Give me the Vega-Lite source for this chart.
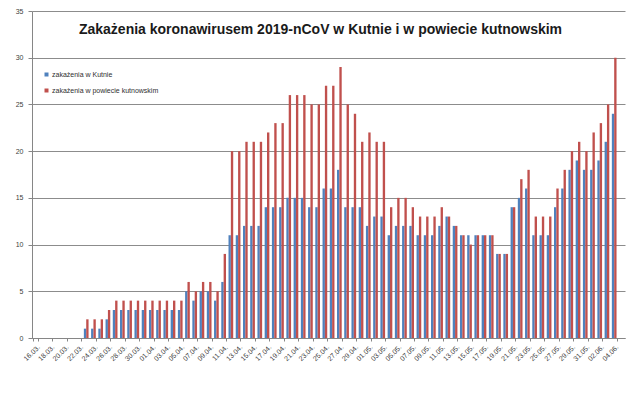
{
 "$schema": "https://vega.github.io/schema/vega-lite/v6.json",
 "width": 593,
 "height": 327,
 "autosize": {"type": "none"},
 "padding": {"left": 32, "top": 11, "right": 18, "bottom": 55},
 "background": "white",
 "title": {"text": "Zakażenia koronawirusem 2019-nCoV w Kutnie i w powiecie kutnowskim", "font": "Liberation Sans", "fontSize": 14, "fontWeight": "bold", "color": "#1a1a1a", "anchor": "middle", "frame": "group", "offset": -30, "dx": -8},
 "data": {"values": [
  {"d":"16.03.","k":0,"p":0},{"d":"17.03.","k":0,"p":0},{"d":"18.03.","k":0,"p":0},{"d":"19.03.","k":0,"p":0},
  {"d":"20.03.","k":0,"p":0},{"d":"21.03.","k":0,"p":0},{"d":"22.03.","k":0,"p":0},{"d":"23.03.","k":1,"p":2},
  {"d":"24.03.","k":1,"p":2},{"d":"25.03.","k":1,"p":2},{"d":"26.03.","k":2,"p":3},{"d":"27.03.","k":3,"p":4},
  {"d":"28.03.","k":3,"p":4},{"d":"29.03.","k":3,"p":4},{"d":"30.03.","k":3,"p":4},{"d":"31.03.","k":3,"p":4},
  {"d":"01.04.","k":3,"p":4},{"d":"02.04.","k":3,"p":4},{"d":"03.04.","k":3,"p":4},{"d":"04.04.","k":3,"p":4},
  {"d":"05.04.","k":3,"p":4},{"d":"06.04.","k":5,"p":6},{"d":"07.04.","k":4,"p":5},{"d":"08.04.","k":5,"p":6},
  {"d":"09.04.","k":5,"p":6},{"d":"10.04.","k":4,"p":5},{"d":"11.04.","k":6,"p":9},{"d":"12.04.","k":11,"p":20},
  {"d":"13.04.","k":11,"p":20},{"d":"14.04.","k":12,"p":21},{"d":"15.04.","k":12,"p":21},{"d":"16.04.","k":12,"p":21},
  {"d":"17.04.","k":14,"p":22},{"d":"18.04.","k":14,"p":23},{"d":"19.04.","k":14,"p":23},{"d":"20.04.","k":15,"p":26},
  {"d":"21.04.","k":15,"p":26},{"d":"22.04.","k":15,"p":26},{"d":"23.04.","k":14,"p":25},{"d":"24.04.","k":14,"p":25},
  {"d":"25.04.","k":16,"p":27},{"d":"26.04.","k":16,"p":27},{"d":"27.04.","k":18,"p":29},{"d":"28.04.","k":14,"p":25},
  {"d":"29.04.","k":14,"p":24},{"d":"30.04.","k":14,"p":21},{"d":"01.05.","k":12,"p":22},{"d":"02.05.","k":13,"p":21},
  {"d":"03.05.","k":13,"p":21},{"d":"04.05.","k":11,"p":14},{"d":"05.05.","k":12,"p":15},{"d":"06.05.","k":12,"p":15},
  {"d":"07.05.","k":12,"p":14},{"d":"08.05.","k":11,"p":13},{"d":"09.05.","k":11,"p":13},{"d":"10.05.","k":11,"p":13},
  {"d":"11.05.","k":12,"p":14},{"d":"12.05.","k":13,"p":13},{"d":"13.05.","k":12,"p":12},{"d":"14.05.","k":11,"p":11},
  {"d":"15.05.","k":11,"p":10},{"d":"16.05.","k":11,"p":11},{"d":"17.05.","k":11,"p":11},{"d":"18.05.","k":11,"p":11},
  {"d":"19.05.","k":9,"p":9},{"d":"20.05.","k":9,"p":9},{"d":"21.05.","k":14,"p":14},{"d":"22.05.","k":15,"p":17},
  {"d":"23.05.","k":16,"p":18},{"d":"24.05.","k":11,"p":13},{"d":"25.05.","k":11,"p":13},{"d":"26.05.","k":11,"p":13},
  {"d":"27.05.","k":14,"p":16},{"d":"28.05.","k":16,"p":18},{"d":"29.05.","k":18,"p":20},{"d":"30.05.","k":19,"p":21},
  {"d":"31.05.","k":18,"p":20},{"d":"01.06.","k":18,"p":22},{"d":"02.06.","k":19,"p":23},{"d":"03.06.","k":21,"p":25},
  {"d":"04.06.","k":24,"p":30},{"d":"05.06.","k":0,"p":0}
 ]},
 "transform": [{"fold": ["k", "p"], "as": ["seria", "wartosc"]}],
 "mark": {"type": "bar"},
 "encoding": {
  "x": {"field": "d", "type": "ordinal", "sort": null,
   "scale": {"paddingInner": 0.35, "paddingOuter": 0.17},
   "axis": {"title": null,
    "values": ["16.03.","18.03.","20.03.","22.03.","24.03.","26.03.","28.03.","30.03.","01.04.","03.04.","05.04.","07.04.","09.04.","11.04.","13.04.","15.04.","17.04.","19.04.","21.04.","23.04.","25.04.","27.04.","29.04.","01.05.","03.05.","05.05.","07.05.","09.05.","11.05.","13.05.","15.05.","17.05.","19.05.","21.05.","23.05.","25.05.","27.05.","29.05.","31.05.","02.06.","04.06."],
    "labelAngle": -45, "labelFont": "Liberation Sans", "labelFontSize": 7, "labelColor": "#404040",
    "domainColor": "#868686", "tickColor": "#868686", "tickSize": 3, "tickBand": "extent", "labelPadding": 2, "grid": false}},
  "xOffset": {"field": "seria", "type": "nominal", "sort": ["k", "p"], "scale": {"paddingInner": 0, "paddingOuter": 0}},
  "y": {"field": "wartosc", "type": "quantitative", "scale": {"domain": [0, 35]},
   "axis": {"title": null, "values": [0,5,10,15,20,25,30,35], "labelFont": "Liberation Sans", "labelFontSize": 7, "labelColor": "#404040",
    "domainColor": "#868686", "tickColor": "#868686", "tickSize": 4, "labelPadding": 5, "gridColor": "#8c8c8c", "gridOpacity": 1}},
  "color": {"field": "seria", "type": "nominal",
   "scale": {"domain": ["k", "p"], "range": ["#4F81BD", "#C0504D"]},
   "legend": {"title": null, "orient": "none", "legendX": 11, "legendY": 60, "padding": 0,
    "symbolType": "square", "symbolSize": 16, "symbolStrokeWidth": 0, "labelFont": "Liberation Sans", "labelFontSize": 7, "labelColor": "#303030",
    "rowPadding": 8, "labelOffset": 2,
    "labelExpr": "datum.label == 'k' ? 'zakażenia w Kutnie' : 'zakażenia w powiecie kutnowskim'"}}
 },
 "config": {"view": {"stroke": null}}
}
